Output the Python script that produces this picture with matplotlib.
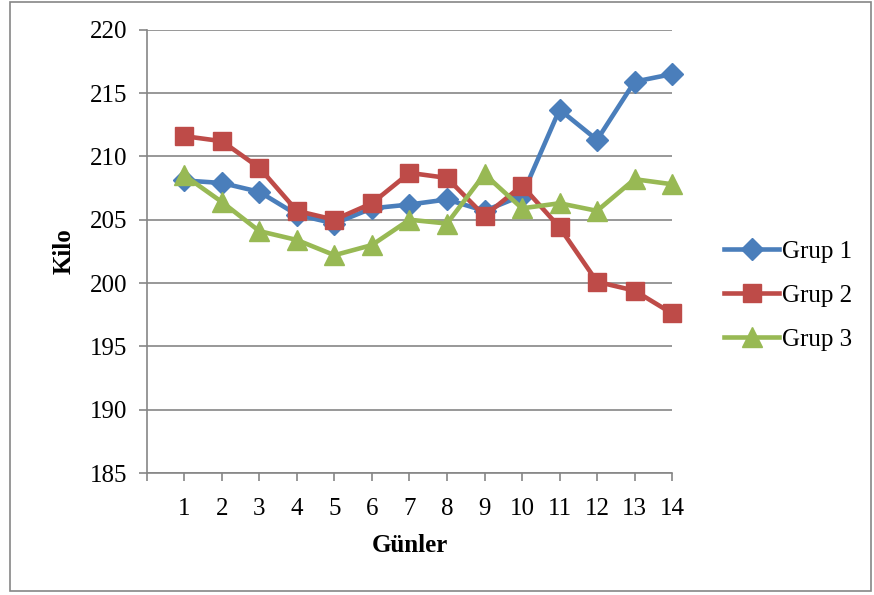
import matplotlib.pyplot as plt
from matplotlib.patches import Rectangle

plt.rcParams['font.family'] = ['Liberation Serif', 'DejaVu Serif']

gunler = list(range(1, 15))
grup1 = [208.1, 207.9, 207.2, 205.4, 204.7, 205.9, 206.2, 206.6, 205.7, 206.9, 213.7, 211.3, 215.9, 216.5]
grup2 = [211.6, 211.2, 209.1, 205.7, 205.0, 206.3, 208.7, 208.3, 205.3, 207.7, 204.4, 200.1, 199.4, 197.6]
grup3 = [208.5, 206.4, 204.1, 203.4, 202.2, 203.0, 205.0, 204.7, 208.6, 205.9, 206.3, 205.7, 208.2, 207.8]
y_ticks = [185, 190, 195, 200, 205, 210, 215, 220]

fig = plt.figure(figsize=(8.74, 5.95), dpi=100)
ax = fig.add_axes([0.168, 0.205, 0.601, 0.745])

ax.plot(gunler, grup1, color='#4A7EBB', linewidth=3.3, marker='D', markersize=11, label='Grup 1', clip_on=False)
ax.plot(gunler, grup2, color='#BE4B48', linewidth=3.3, marker='s', markersize=12.5, label='Grup 2', clip_on=False)
ax.plot(gunler, grup3, color='#98B954', linewidth=3.3, marker='^', markersize=14, label='Grup 3', clip_on=False)

ax.set_xlim(0, 14)
ax.set_ylim(185, 220)
ax.set_yticks(y_ticks)
ax.set_xticks(range(0, 15))
ax.set_xticklabels([''] + [str(g) for g in gunler])
ax.grid(axis='y', color='#868686', linewidth=1.2)
ax.set_axisbelow(True)
for s in ['top', 'right']:
    ax.spines[s].set_visible(False)
for s in ['left', 'bottom']:
    ax.spines[s].set_color('#868686')
    ax.spines[s].set_linewidth(1.2)
ax.tick_params(axis='both', colors='#868686', labelcolor='black', labelsize=18, length=6, width=1.2)
ax.tick_params(axis='x', pad=12)
ax.tick_params(axis='y', pad=8)

ax.set_xlabel('Günler', fontsize=18, fontweight='bold', labelpad=10)
ax.set_ylabel('Kilo', fontsize=18, fontweight='bold', labelpad=10)

ax.legend(loc='center left', bbox_to_anchor=(1.08, 0.40), frameon=False, fontsize=18,
          handlelength=2.2, labelspacing=0.85, handletextpad=0.1, borderaxespad=0.0)

fig.patches.append(Rectangle((0.012, 0.006), 0.985, 0.99, transform=fig.transFigure,
                             fill=False, edgecolor='#868686', linewidth=1.2))

fig.savefig('out.png', dpi=100)
